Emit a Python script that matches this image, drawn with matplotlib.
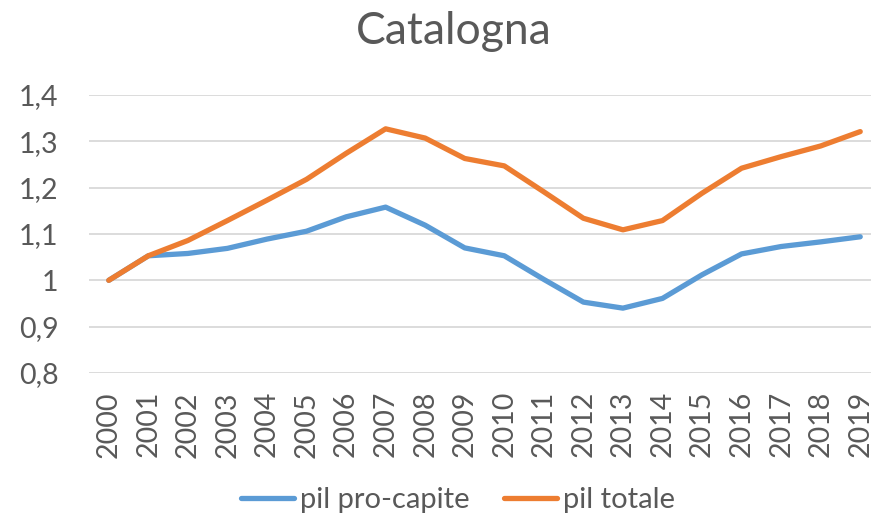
import numpy as np
import matplotlib.pyplot as plt
from matplotlib.ticker import FuncFormatter

years = [str(y) for y in range(2000, 2020)]
pil_pro_capite = [1.000, 1.053, 1.058, 1.069, 1.089, 1.106, 1.137, 1.158, 1.119, 1.070,
                  1.053, 1.002, 0.953, 0.940, 0.961, 1.012, 1.057, 1.073, 1.083, 1.094]
pil_totale = [1.000, 1.053, 1.086, 1.129, 1.173, 1.218, 1.274, 1.327, 1.307, 1.263,
              1.247, 1.191, 1.134, 1.109, 1.129, 1.188, 1.242, 1.267, 1.290, 1.321]

plt.rcParams["font.family"] = ["Lato", "DejaVu Sans"]
text_color = "#595959"

W, H = 871, 520
fig = plt.figure(figsize=(W / 100, H / 100), dpi=100)
ax = fig.add_axes([89 / W, 1 - 373 / H, (871 - 89) / W, (373 - 95) / H])

x = np.arange(len(years))
ax.plot(x, pil_pro_capite, color="#5B9BD5", linewidth=3.8, solid_capstyle="round",
        label="pil pro-capite", zorder=3)
ax.plot(x, pil_totale, color="#ED7D31", linewidth=3.8, solid_capstyle="round",
        label="pil totale", zorder=4)

step = (860 - 109) / 19
ax.set_xlim(-0.5, 19.5 - (880 - 871) / step)
ax.set_ylim(0.8, 1.4)
ax.set_yticks(np.arange(0.8, 1.41, 0.1))
ax.yaxis.set_major_formatter(FuncFormatter(lambda v, p: f"{v:.1f}".replace(".", ",").replace(",0", "")))
ax.set_xticks(x)
ax.set_xticklabels(years, rotation=90)
ax.grid(axis="y", color="#D9D9D9", linewidth=1.3)
ax.set_axisbelow(True)
for s in ax.spines.values():
    s.set_visible(False)
ax.tick_params(axis="both", length=0, labelsize=20.5, colors=text_color)
ax.tick_params(axis="y", pad=22)
ax.tick_params(axis="x", pad=13)

fig.text(454 / W, 1 - 32 / H, "Catalogna", ha="center", va="center", fontsize=32, color=text_color)

leg = fig.legend(loc="center", bbox_to_anchor=(458 / W, 1 - 500 / H), ncol=2, frameon=False,
                 fontsize=21, handlelength=1.8, handletextpad=0.2, columnspacing=1.2)
for t in leg.get_texts():
    t.set_color(text_color)

fig.savefig("out.png", dpi=100)
